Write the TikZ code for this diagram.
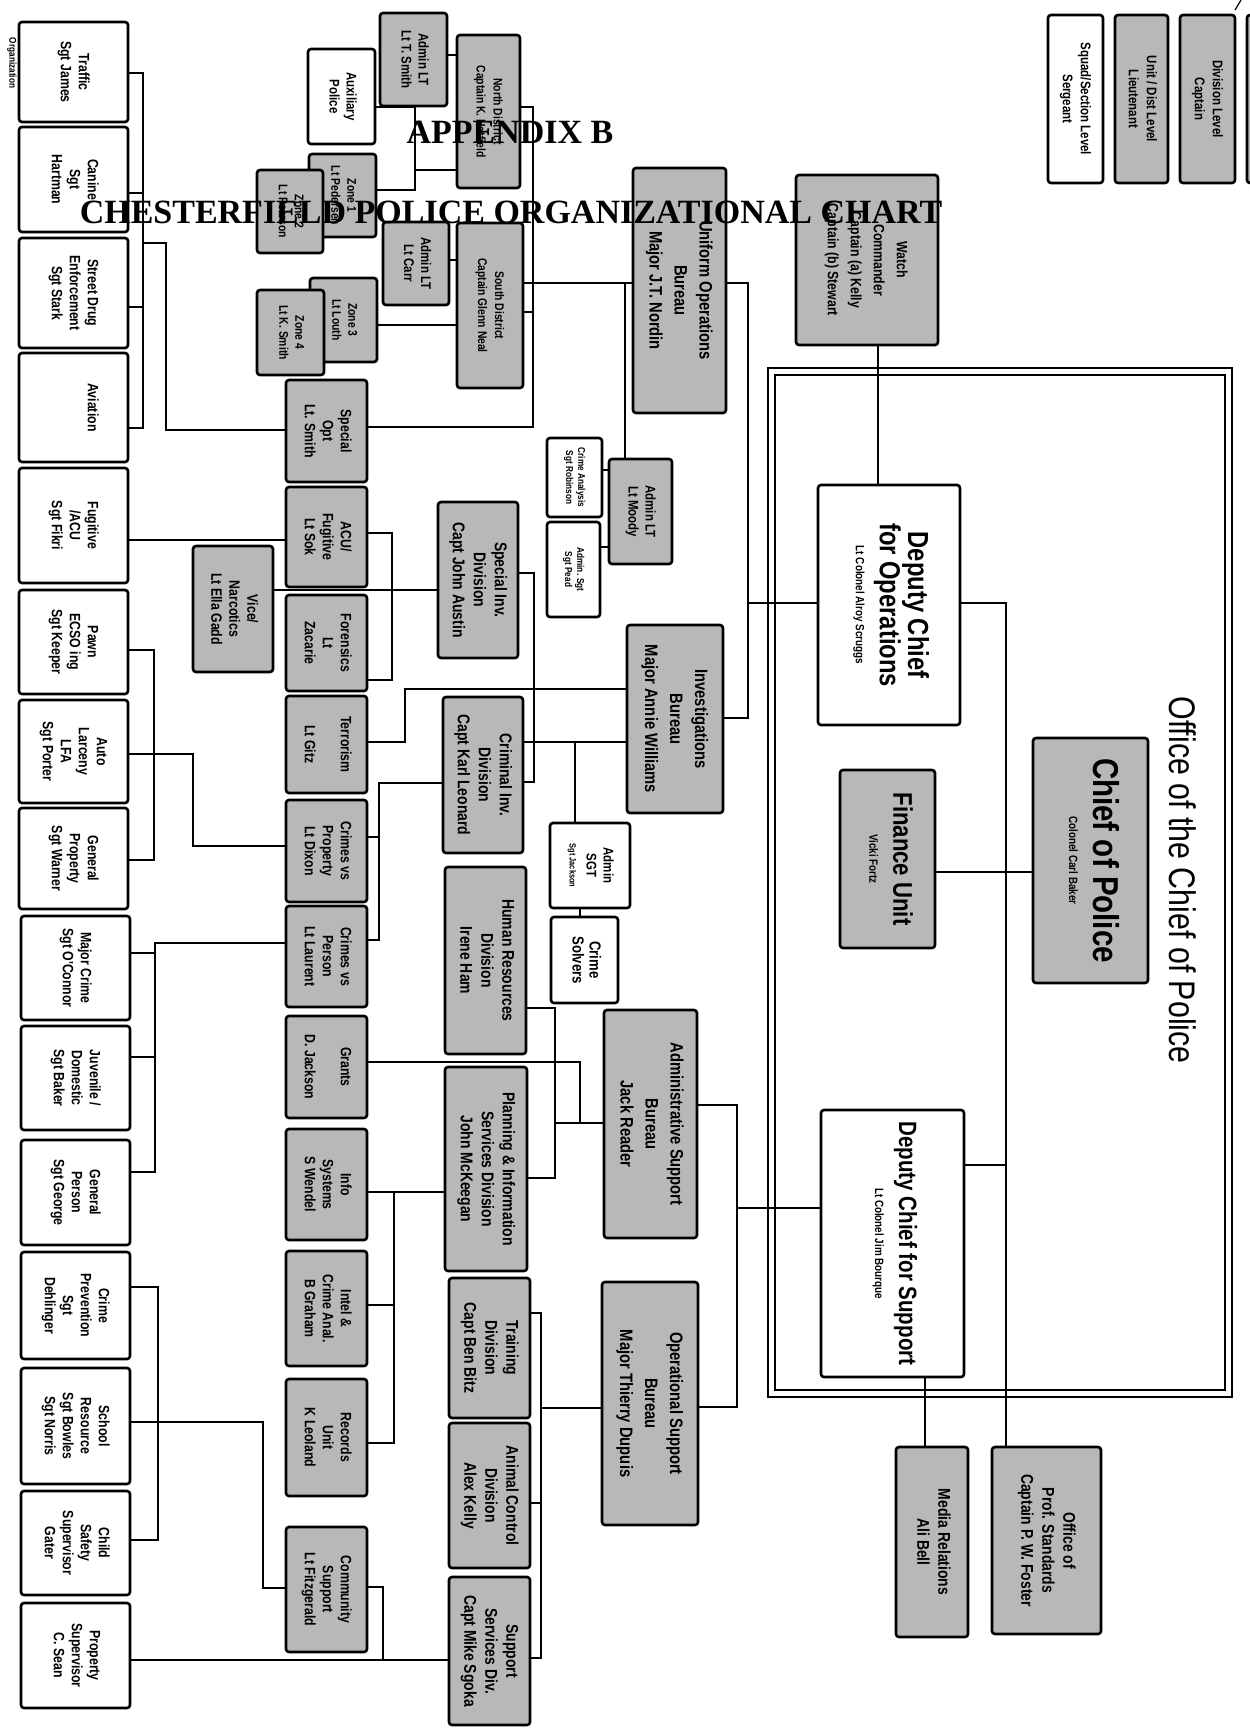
\documentclass[tikz,border=0pt]{standalone}
\usepackage{fontspec}
\usepackage{graphicx}
\newfontfamily\boxfont[FakeStretch=0.82]{Liberation Sans}
\newfontfamily\ttlfont{Liberation Serif}
\newcommand{\myfs}[2]{\fontsize{#1}{#2}\selectfont}
\newcommand{\mybx}[7]{%
  \pgfmathsetmacro\bxw{(#5-#3)*0.5}%
  \pgfmathsetmacro\bxh{(#6-#4)*0.5}%
  \node[#1, minimum width=\bxw pt, minimum height=\bxh pt] (#2) at ({(#3+#5)/2},{(#4+#6)/2}) {\rotatebox{-90}{\begin{tabular}{@{}c@{}}#7\end{tabular}}};%
}
\begin{document}
\begin{tikzpicture}[x=0.5pt,y=-0.5pt,
  conn/.style={line width=1.1pt},
  bbase/.style={draw, line width=1.3pt, inner sep=0pt, outer sep=0pt, rounded corners=1.5pt},
  wb/.style={bbase, fill=white},
  gb/.style={bbase, fill=black!28},
  c1/.style={wb, font=\boxfont\bfseries\myfs{7.5}{9}},
  c2/.style={gb, font=\boxfont\bfseries\myfs{7.5}{9}},
  ulg/.style={gb, font=\boxfont\bfseries\myfs{7}{8.5}},
  dis/.style={gb, font=\boxfont\bfseries\myfs{6.3}{8.5}},
  zn/.style={gb, font=\boxfont\bfseries\myfs{6.3}{8}},
  ulw/.style={wb, font=\boxfont\bfseries\myfs{7}{8.5}},
  tiny/.style={wb, font=\boxfont\bfseries\myfs{5}{6}},
  dv/.style={gb, font=\boxfont\bfseries\myfs{8.5}{10.5}},
  bu/.style={gb, font=\boxfont\bfseries\myfs{9}{12.5}},
  wt/.style={gb, font=\boxfont\bfseries\myfs{7.5}{11.5}},
  leg/.style={font=\boxfont\bfseries\myfs{7}{9}}
]
\fill[white] (0,0) rectangle (1249,1731);
\useasboundingbox (0,0) rectangle (1249,1731);

% Office of the Chief frame
\draw[line width=1.3pt] (768,368) rectangle (1232,1397);
\draw[line width=0.9pt] (775,375) rectangle (1225,1390);

% ---------- left column (sergeant level)
\mybx{c1}{traffic}{19}{22}{128}{122}{Traffic\\Sgt James}
\mybx{c1}{canine}{19}{127}{128}{232}{Canine\\Sgt\\Hartman}
\mybx{c1}{street}{19}{238}{128}{348}{Street Drug\\Enforcement\\Sgt Stark}
\mybx{c1}{aviation}{19}{353}{128}{462}{Aviation\\~\\~}
\mybx{c1}{fugitive}{19}{468}{128}{583}{Fugitive\\/ACU\\Sgt Fikri}
\mybx{c1}{pawn}{19}{590}{128}{694}{Pawn\\ECSO ing\\Sgt Keeper}
\mybx{c1}{auto}{19}{700}{128}{803}{Auto\\Larceny\\LFA\\Sgt Porter}
\mybx{c1}{genprop}{19}{808}{128}{909}{General\\Property\\Sgt Warner}
\mybx{c1}{majcrime}{21}{916}{130}{1020}{Major Crime\\Sgt O'Connor}
\mybx{c1}{juv}{21}{1026}{130}{1130}{Juvenile /\\Domestic\\Sgt Baker}
\mybx{c1}{genpers}{21}{1140}{130}{1245}{General\\Person\\Sgt George}
\mybx{c1}{crimeprev}{21}{1252}{130}{1359}{Crime\\Prevention\\Sgt\\Dehlinger}
\mybx{c1}{school}{21}{1368}{130}{1484}{School\\Resource\\Sgt Bowles\\Sgt Norris}
\mybx{c1}{childsafe}{21}{1491}{130}{1595}{Child\\Safety\\Supervisor\\Gater}
\mybx{c1}{propsup}{21}{1603}{130}{1708}{Property\\Supervisor\\C. Sean}

% ---------- second column (lieutenant level)
\mybx{c2}{specop}{286}{380}{367}{482}{Special\\Opt\\Lt. Smith}
\mybx{c2}{acu}{286}{487}{367}{587}{ACU/\\Fugitive\\Lt Sok}
\mybx{c2}{forensics}{286}{595}{367}{691}{Forensics\\Lt\\Zacarie}
\mybx{c2}{terror}{286}{696}{367}{793}{Terrorism\\~\\Lt Gitz}
\mybx{c2}{cvprop}{286}{800}{367}{902}{Crimes vs\\Property\\Lt Dixon}
\mybx{c2}{cvpers}{286}{906}{367}{1007}{Crimes vs\\Person\\Lt Laurent}
\mybx{c2}{grants}{286}{1016}{367}{1118}{Grants\\~\\D. Jackson}
\mybx{c2}{infosys}{286}{1129}{367}{1240}{Info\\Systems\\S Wendel}
\mybx{c2}{intel}{286}{1251}{367}{1366}{Intel \&\\Crime Anal.\\B Graham}
\mybx{c2}{records}{286}{1379}{367}{1496}{Records\\Unit\\K Leoland}
\mybx{c2}{community}{286}{1527}{367}{1652}{Community\\Support\\Lt Fitzgerald}
\mybx{c2}{vice}{193}{546}{273}{672}{Vice/\\Narcotics\\Lt Ella Gadd}

% ---------- upper left (districts)
\mybx{ulw}{aux}{308}{49}{375}{144}{Auxiliary\\Police}
\mybx{ulg}{adminsm}{380}{13}{447}{106}{Admin LT\\Lt T. Smith}
\mybx{dis}{north}{457}{35}{520}{188}{North District\\Captain K. Hatfield}
\mybx{zn}{zone1}{309}{154}{376}{237}{Zone 1\\Lt Pedersen}
\mybx{zn}{zone2}{257}{170}{323}{253}{Zone 2\\Lt Pearson}
\mybx{ulg}{carr}{383}{222}{449}{305}{Admin LT\\Lt Carr}
\mybx{dis}{south}{457}{223}{523}{388}{South District\\Captain Glenn Neal}
\mybx{zn}{zone3}{310}{278}{377}{362}{Zone 3\\Lt Louth}
\mybx{zn}{zone4}{257}{290}{324}{375}{Zone 4\\Lt K. Smith}

% ---------- divisions
\mybx{dv}{specinv}{438}{502}{518}{658}{Special Inv.\\Division\\Capt John Austin}
\mybx{dv}{crimi}{443}{697}{523}{853}{Criminal Inv.\\Division\\Capt Karl Leonard}
\mybx{dv}{hr}{445}{867}{526}{1054}{Human Resources\\Division\\Irene Ham}
\mybx{dv}{planning}{445}{1067}{527}{1271}{Planning \& Information\\Services Division\\John McKeegan}
\mybx{dv}{training}{449}{1278}{530}{1418}{Training\\Division\\Capt Ben Bitz}
\mybx{dv}{animal}{449}{1423}{530}{1568}{Animal Control\\Division\\Alex Kelly}
\mybx{dv}{supserv}{449}{1577}{530}{1725}{Support\\Services Div.\\Capt Mike Sgoka}

% ---------- small boxes
\mybx{tiny}{crimean}{547}{438}{602}{517}{Crime Analysis\\Sgt Robinson}
\mybx{tiny}{asgt}{547}{522}{600}{617}{Admin. Sgt\\Sgt Pead}
\mybx{ulg}{adminlt}{609}{459}{672}{564}{Admin LT\\Lt Moody}
\mybx{ulw}{adminsgt}{550}{823}{630}{908}{Admin\\SGT\\{\myfs{4.5}{5}Sgt Jackson}}
\mybx{ulw}{solvers}{551}{917}{618}{1003}{\myfs{8}{10}Crime\\\myfs{8}{10}Solvers}

% ---------- bureaus
\mybx{bu}{uniform}{633}{168}{726}{413}{Uniform Operations\\Bureau\\Major J.T. Nordin}
\mybx{bu}{invb}{627}{625}{723}{813}{Investigations\\Bureau\\Major Annie Williams}
\mybx{bu}{adminsup}{604}{1010}{697}{1238}{Administrative Support\\Bureau\\Jack Reader}
\mybx{bu}{opsup}{602}{1282}{698}{1525}{Operational Support\\Bureau\\Major Thierry Dupuis}
\mybx{wt}{watch}{796}{175}{938}{345}{Watch\\Commander\\Captain (a) Kelly\\Captain (b) Stewart}

% ---------- command staff
\mybx{wb}{depops}{818}{485}{960}{725}{\boxfont\bfseries\myfs{14.5}{18}Deputy Chief\\\boxfont\bfseries\myfs{14.5}{18}for Operations\\\boxfont\bfseries\myfs{6}{7}Lt Colonel Alroy Scruggs}
\mybx{gb}{finance}{840}{770}{935}{948}{\boxfont\bfseries\myfs{13.5}{17}Finance Unit\\\boxfont\bfseries\myfs{6}{7}Vicki Fortz}
\mybx{gb}{chief}{1033}{738}{1148}{983}{\boxfont\bfseries\myfs{18}{21}Chief of Police\\\boxfont\bfseries\myfs{6}{7}Colonel Carl Baker}
\mybx{wb}{depsup}{821}{1110}{964}{1377}{\boxfont\bfseries\myfs{12.5}{17}Deputy Chief for Support\\\boxfont\bfseries\myfs{6}{7}Lt Colonel Jim Bourque}
\mybx{dv}{media}{896}{1447}{968}{1637}{Media Relations\\Ali Bell}
\mybx{dv}{profstd}{992}{1447}{1101}{1634}{Office of\\Prof. Standards\\Captain P. W. Foster}

\node[font=\boxfont\myfs{18.5}{20}, rotate=-90, inner sep=0pt] (office) at (1183,880) {Office of the Chief of Police};

% ---------- legend
\mybx{wb,leg}{legsgt}{1048}{15}{1103}{183}{Squad/Section Level\\Sergeant}
\mybx{gb,leg}{leglt}{1115}{15}{1168}{183}{Unit / Dist Level\\Lieutenant}
\mybx{gb,leg}{legcpt}{1180}{15}{1235}{183}{Division Level\\Captain}
\draw[line width=1.3pt, rounded corners=1.5pt, fill=black!28] (1247,15) rectangle (1275,183);
\draw[line width=0.6pt] (1235,10) -- (1241,0);
\node[font=\boxfont\bfseries\myfs{5}{6}, rotate=-90, inner sep=0pt] (stamp) at (12,63) {Organization};

% ---------- connectors
\draw[conn] (traffic.east |- 0,73) -| (143,428) -- (aviation.east |- 0,428);
\draw[conn] (canine.east |- 0,193) -- (143,193);
\draw[conn] (street.east |- 0,307) -- (143,307);
\draw[conn] (143,243) -| (166,430) -- (specop.west |- 0,430);
\draw[conn] (specop.east |- 0,427) -| (533,107) -- (north.east |- 0,107);
\draw[conn] (south.east |- 0,312) -- (533,312);
\draw[conn] (south.east |- 0,283) -- (uniform.west |- 0,283);
\draw[conn] (625,283) -- (adminlt.north -| 625,0);
\draw[conn] (uniform.east |- 0,283) -| (748,718) -- (invb.east |- 0,718);
\draw[conn] (depops.west |- 0,603) -- (748,603);
\draw[conn] (watch.south -| 878,0) -- (depops.north -| 878,0);
\draw[conn] (depops.east |- 0,603) -| (profstd.north -| 1006,0);
\draw[conn] (depsup.east |- 0,1165) -- (1006,1165);
\draw[conn] (chief.west |- 0,872) -- (finance.east |- 0,872);
\draw[conn] (depsup.south -| 925,0) -- (media.north -| 925,0);
\draw[conn] (depsup.west |- 0,1208) -- (737,1208);
\draw[conn] (adminsup.east |- 0,1105) -| (737,1407) -- (opsup.east |- 0,1407);

\draw[conn] (adminsm.east |- 0,55) -- (north.west |- 0,55);
\draw[conn] (aux.east |- 0,107) -- (415,107);
\draw[conn] (adminsm.south -| 415,0) -- (415,190) -- (zone1.east |- 0,190);
\draw[conn] (415,170) -- (north.west |- 0,170);
\draw[conn] (carr.east |- 0,260) -- (south.west |- 0,260);
\draw[conn] (zone3.east |- 0,325) -- (south.west |- 0,325);
\draw[conn] (adminlt.west |- 0,470) -- (crimean.east |- 0,470);
\draw[conn] (adminlt.west |- 0,547) -- (asgt.east |- 0,547);

\draw[conn] (fugitive.east |- 0,540) -- (acu.west |- 0,540);
\draw[conn] (vice.east |- 0,590) -- (specinv.west |- 0,590);
\draw[conn] (acu.east |- 0,533) -| (392,680) -- (forensics.east |- 0,680);
\draw[conn] (pawn.east |- 0,650) -| (154,860) -- (genprop.east |- 0,860);
\draw[conn] (auto.east |- 0,754) -| (193,846) -- (cvprop.west |- 0,846);
\draw[conn] (terror.east |- 0,742) -| (405,689) -- (invb.west |- 0,689);
\draw[conn] (specinv.east |- 0,573) -| (534,782) -- (crimi.east |- 0,782);
\draw[conn] (invb.west |- 0,742) -- (crimi.east |- 0,742);
\draw[conn] (575,742) -- (adminsgt.north -| 575,0);
\draw[conn] (adminsgt.south -| 580,0) -- (solvers.north -| 580,0);
\draw[conn] (crimi.west |- 0,783) -| (379,940) -- (cvpers.east |- 0,940);
\draw[conn] (cvprop.east |- 0,837) -- (379,837);
\draw[conn] (cvpers.west |- 0,943) -| (155,1172) -- (genpers.east |- 0,1172);
\draw[conn] (majcrime.east |- 0,953) -- (155,953);
\draw[conn] (juv.east |- 0,1057) -- (155,1057);
\draw[conn] (grants.east |- 0,1062) -| (580,1123);
\draw[conn] (adminsup.west |- 0,1123) -- (555,1123);
\draw[conn] (hr.east |- 0,1008) -| (555,1178) -- (planning.east |- 0,1178);
\draw[conn] (planning.west |- 0,1192) -- (infosys.east |- 0,1192);
\draw[conn] (394,1192) |- (records.east |- 0,1443);
\draw[conn] (intel.east |- 0,1305) -- (394,1305);
\draw[conn] (opsup.west |- 0,1408) -- (541,1408);
\draw[conn] (training.east |- 0,1313) -| (541,1658) -- (supserv.east |- 0,1658);
\draw[conn] (animal.east |- 0,1503) -- (541,1503);
\draw[conn] (supserv.west |- 0,1660) -- (propsup.east |- 0,1660);
\draw[conn] (community.east |- 0,1587) -| (383,1660);
\draw[conn] (community.west |- 0,1588) -| (263,1422) -- (school.east |- 0,1422);
\draw[conn] (crimeprev.east |- 0,1287) -| (158,1540) -- (childsafe.east |- 0,1540);

% ---------- titles
\node[font=\ttlfont\bfseries\myfs{17}{20}, inner sep=0pt] (ttla) at (510,132) {APPENDIX B};
\node[font=\ttlfont\bfseries\myfs{17}{20}, inner sep=0pt] (ttlb) at (511,212) {CHESTERFIELD POLICE ORGANIZATIONAL CHART};
\end{tikzpicture}
\end{document}
